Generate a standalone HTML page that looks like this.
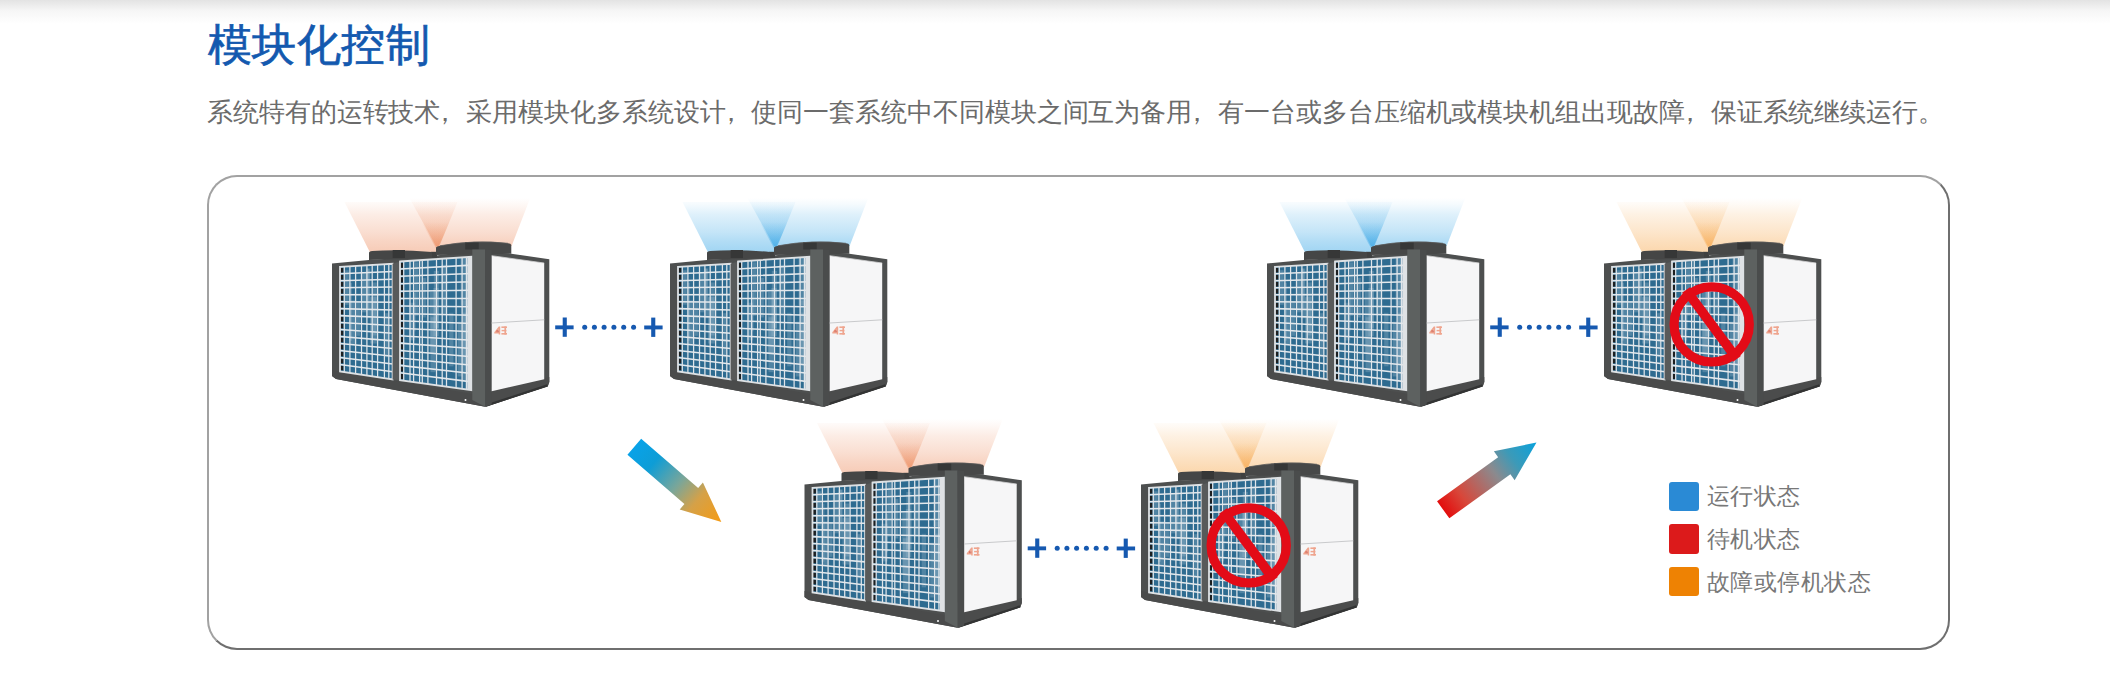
<!DOCTYPE html>
<html><head><meta charset="utf-8"><style>
html,body{margin:0;padding:0;background:#fff;width:2110px;height:686px;overflow:hidden;}
body{position:relative;font-family:"Liberation Sans",sans-serif;}
.topshade{position:absolute;left:0;top:0;width:2110px;height:24px;background:linear-gradient(#e3e3e3,#f6f6f6 45%,#fff);}
.title{position:absolute;left:207.5px;top:23px;font-size:44px;line-height:1;color:#1359af;white-space:nowrap;letter-spacing:0.55px;-webkit-text-stroke:0.7px #1359af;}
.desc{position:absolute;left:207px;top:98.5px;font-size:26px;letter-spacing:-0.076px;line-height:1;color:#6b6b6b;white-space:nowrap;}
.box{position:absolute;left:207.2px;top:175.45px;width:1738.5px;height:470.25px;border-style:solid;border-width:2.5px 2px 2px 2.5px;border-color:#a2a2a2 #6f6f6f #6f6f6f #a2a2a2;border-radius:30px;}
svg{position:absolute;left:0;top:0;}
.cm{position:relative;left:-8px;}
.leg{position:absolute;left:1707px;font-size:23px;letter-spacing:0.42px;line-height:1;color:#787878;white-space:nowrap;}
.sq{position:absolute;left:1668.5px;width:30.3px;height:29.4px;border-radius:3px;}
</style></head><body>
<div class="topshade"></div>
<div class="title">模块化控制</div>
<div class="desc">系统特有的运转技术<span class="cm">，</span>采用模块化多系统设计<span class="cm">，</span>使同一套系统中不同模块之间互为备用<span class="cm">，</span>有一台或多台压缩机或模块机组出现故障<span class="cm">，</span>保证系统继续运行。</div>
<div class="box"></div>
<svg width="2110" height="686" viewBox="0 0 2110 686"><defs><linearGradient id="gblue" x1="0" y1="0" x2="1" y2="1"><stop offset="0" stop-color="#2d6c92"/><stop offset="0.5" stop-color="#3a7aa0"/><stop offset="1" stop-color="#2a6689"/></linearGradient><linearGradient id="cgr" x1="0" y1="198" x2="0" y2="252" gradientUnits="userSpaceOnUse"><stop offset="0" stop-color="rgb(232,112,55)" stop-opacity="0"/><stop offset="0.13" stop-color="rgb(232,112,55)" stop-opacity="0.05"/><stop offset="0.31" stop-color="rgb(232,112,55)" stop-opacity="0.13"/><stop offset="0.63" stop-color="rgb(232,112,55)" stop-opacity="0.23"/><stop offset="0.78" stop-color="rgb(232,112,55)" stop-opacity="0.29"/><stop offset="1" stop-color="rgb(232,112,55)" stop-opacity="0.36"/></linearGradient><linearGradient id="cvr" x1="0" y1="222" x2="0" y2="250" gradientUnits="userSpaceOnUse"><stop offset="0" stop-color="rgb(232,112,55)" stop-opacity="0"/><stop offset="1" stop-color="rgb(232,112,55)" stop-opacity="0.36"/></linearGradient><linearGradient id="cgb" x1="0" y1="198" x2="0" y2="252" gradientUnits="userSpaceOnUse"><stop offset="0" stop-color="rgb(20,150,225)" stop-opacity="0"/><stop offset="0.13" stop-color="rgb(20,150,225)" stop-opacity="0.05"/><stop offset="0.31" stop-color="rgb(20,150,225)" stop-opacity="0.14"/><stop offset="0.63" stop-color="rgb(20,150,225)" stop-opacity="0.25"/><stop offset="0.78" stop-color="rgb(20,150,225)" stop-opacity="0.32"/><stop offset="1" stop-color="rgb(20,150,225)" stop-opacity="0.4"/></linearGradient><linearGradient id="cvb" x1="0" y1="222" x2="0" y2="250" gradientUnits="userSpaceOnUse"><stop offset="0" stop-color="rgb(20,150,225)" stop-opacity="0"/><stop offset="1" stop-color="rgb(20,150,225)" stop-opacity="0.4"/></linearGradient><linearGradient id="cgo" x1="0" y1="198" x2="0" y2="252" gradientUnits="userSpaceOnUse"><stop offset="0" stop-color="rgb(245,150,40)" stop-opacity="0"/><stop offset="0.13" stop-color="rgb(245,150,40)" stop-opacity="0.05"/><stop offset="0.31" stop-color="rgb(245,150,40)" stop-opacity="0.13"/><stop offset="0.63" stop-color="rgb(245,150,40)" stop-opacity="0.24"/><stop offset="0.78" stop-color="rgb(245,150,40)" stop-opacity="0.3"/><stop offset="1" stop-color="rgb(245,150,40)" stop-opacity="0.38"/></linearGradient><linearGradient id="cvo" x1="0" y1="222" x2="0" y2="250" gradientUnits="userSpaceOnUse"><stop offset="0" stop-color="rgb(245,150,40)" stop-opacity="0"/><stop offset="1" stop-color="rgb(245,150,40)" stop-opacity="0.38"/></linearGradient><linearGradient id="ag1" x1="0" y1="0" x2="1" y2="0"><stop offset="0" stop-color="#08a2e8"/><stop offset="0.22" stop-color="#0e9dd6"/><stop offset="0.5" stop-color="#79a69a"/><stop offset="0.72" stop-color="#d5a148"/><stop offset="1" stop-color="#f59b14"/></linearGradient><linearGradient id="ag2" x1="0" y1="0" x2="1" y2="0"><stop offset="0" stop-color="#e30d0d"/><stop offset="0.2" stop-color="#d8473a"/><stop offset="0.55" stop-color="#8b8a8e"/><stop offset="0.75" stop-color="#3c9ab8"/><stop offset="1" stop-color="#0aa2dc"/></linearGradient><g id="body"><polygon points="332,263.6 369,260 436,255.5 472.3,251 511.3,253.7 549.3,259.3 549.3,382 547.8,386.3 485.2,406.8 336,379 332,376" fill="#4d4f4f"/><rect x="431" y="251.8" width="6" height="6" fill="#3f4040"/><path d="M369 260 V252.5 Q369.5 251 372 250.9 Q400 249 432 252 V258 Z" fill="#454646"/><rect x="392.7" y="250" width="12.3" height="8" fill="#363737"/><path d="M436 255 V247.5 Q436.5 246.5 440 245.8 Q474 239.5 508 243.3 Q511 243.6 511.3 245 V253.7 Z" fill="#474848"/><rect x="465.2" y="242" width="13.5" height="7.5" fill="#363737"/><path d="M440 245.8 Q474 239.5 508 243.3" stroke="#5a5b5b" stroke-width="0.8" fill="none"/><polygon points="332,370 472.5,394 485.2,406.8 336,379 332,376" fill="#4a4b4b"/><polygon points="491.5,391.3 549.3,377 549.3,382 547.8,386.3 485.2,406.8" fill="#4b4c4c"/><path d="M486 405.6 L547.5 385.4" stroke="#333434" stroke-width="2.2"/><polygon points="340,266.8 392.6,263.8 392.6,379.4 340,371.4" fill="#2e6b90"/><rect x="356.77" y="301.03" width="3.18" height="34.78" fill="#9dbccd" opacity="0.32"/><rect x="366.03" y="268.51" width="4.15" height="49.76" fill="#9dbccd" opacity="0.32"/><rect x="344.27" y="270.24" width="4.45" height="34.52" fill="#9dbccd" opacity="0.32"/><rect x="361.16" y="272.34" width="6.22" height="40.01" fill="#9dbccd" opacity="0.32"/><rect x="370.02" y="297.08" width="6.76" height="46.46" fill="#9dbccd" opacity="0.32"/><rect x="385.25" y="313.18" width="2.71" height="44.13" fill="#9dbccd" opacity="0.32"/><rect x="348.93" y="282.71" width="3.03" height="58.01" fill="#9dbccd" opacity="0.32"/><rect x="350.52" y="300.32" width="5.12" height="43.97" fill="#9dbccd" opacity="0.32"/><rect x="366.54" y="268.57" width="2.78" height="39.85" fill="#9dbccd" opacity="0.32"/><rect x="372.33" y="282.45" width="4.42" height="52.97" fill="#9dbccd" opacity="0.32"/><path d="M340.2 268h3.2V272.57h-3.2zM340.2 274.97h3.2V279.55h-3.2zM340.2 281.95h3.2V286.52h-3.2zM340.2 288.92h3.2V293.49h-3.2zM340.2 295.89h3.2V300.47h-3.2zM340.2 302.87h3.2V307.44h-3.2zM340.2 309.84h3.2V314.41h-3.2zM340.2 316.81h3.2V321.39h-3.2zM340.2 323.79h3.2V328.36h-3.2zM340.2 330.76h3.2V335.33h-3.2zM340.2 337.73h3.2V342.31h-3.2zM340.2 344.71h3.2V349.28h-3.2zM340.2 351.68h3.2V356.25h-3.2zM340.2 358.65h3.2V363.23h-3.2zM340.2 365.63h3.2V370.2h-3.2z" fill="#1d1f20"/><path d="M344.3 266.55V372.05M349.9 266.24V372.91M355.6 265.91V373.77M361.5 265.57V374.67M366.9 265.27V375.49M372.2 264.96V376.3M377.6 264.66V377.12M384.4 264.27V378.15M388.8 264.02V378.82" stroke="#dfe5ea" stroke-width="1.25" fill="none"/><path d="M340 273.77L392.6 271.51M340 280.75L392.6 279.21M340 287.72L392.6 286.92M340 294.69L392.6 294.63M340 301.67L392.6 302.33M340 308.64L392.6 310.04M340 315.61L392.6 317.75M340 322.59L392.6 325.45M340 329.56L392.6 333.16M340 336.53L392.6 340.87M340 343.51L392.6 348.57M340 350.48L392.6 356.28M340 357.45L392.6 363.99M340 364.43L392.6 371.69" stroke="#e3e8ec" stroke-width="1.55" fill="none"/><polygon points="340,266.8 392.6,263.8 392.6,379.4 340,371.4" fill="none" stroke="#dde1e4" stroke-width="1.8"/><polygon points="392.6,263.8 400,261.5 400,380.2 392.6,379.4" fill="#585a5a"/><polygon points="400,261.5 471.7,256.8 471.7,390.2 400,380.2" fill="#2e6b90"/><rect x="430.51" y="317.24" width="5.02" height="54.94" fill="#9dbccd" opacity="0.32"/><rect x="433.81" y="270.88" width="5.14" height="56.98" fill="#9dbccd" opacity="0.32"/><rect x="441.07" y="264.79" width="6.07" height="49.71" fill="#9dbccd" opacity="0.32"/><rect x="408.98" y="302.71" width="6.14" height="37.68" fill="#9dbccd" opacity="0.32"/><rect x="462.04" y="300.4" width="6.84" height="63.69" fill="#9dbccd" opacity="0.32"/><rect x="412.96" y="292.71" width="2.57" height="38.58" fill="#9dbccd" opacity="0.32"/><rect x="414.9" y="262.35" width="3.59" height="53.47" fill="#9dbccd" opacity="0.32"/><rect x="429.8" y="291.94" width="6.29" height="61.42" fill="#9dbccd" opacity="0.32"/><rect x="433.33" y="288.02" width="5.48" height="48.14" fill="#9dbccd" opacity="0.32"/><rect x="462.96" y="312.66" width="6.98" height="67.43" fill="#9dbccd" opacity="0.32"/><rect x="422.35" y="277.85" width="3.53" height="39.58" fill="#9dbccd" opacity="0.32"/><rect x="449.19" y="312.79" width="4.3" height="53.57" fill="#9dbccd" opacity="0.32"/><rect x="460.6" y="257.56" width="6.31" height="47.59" fill="#9dbccd" opacity="0.32"/><rect x="457.76" y="321.7" width="4.61" height="54.73" fill="#9dbccd" opacity="0.32"/><path d="M400.2 262.7h3.2V267.72h-3.2zM400.2 270.12h3.2V275.14h-3.2zM400.2 277.54h3.2V282.56h-3.2zM400.2 284.96h3.2V289.98h-3.2zM400.2 292.38h3.2V297.39h-3.2zM400.2 299.79h3.2V304.81h-3.2zM400.2 307.21h3.2V312.23h-3.2zM400.2 314.63h3.2V319.65h-3.2zM400.2 322.05h3.2V327.07h-3.2zM400.2 329.47h3.2V334.49h-3.2zM400.2 336.89h3.2V341.91h-3.2zM400.2 344.31h3.2V349.32h-3.2zM400.2 351.72h3.2V356.74h-3.2zM400.2 359.14h3.2V364.16h-3.2zM400.2 366.56h3.2V371.58h-3.2zM400.2 373.98h3.2V379h-3.2z" fill="#1d1f20"/><path d="M403.7 261.26V380.72M410 260.84V381.59M413.6 260.61V382.1M419.6 260.22V382.93M422.3 260.04V383.31M427.9 259.67V384.09M436.5 259.11V385.29M442.2 258.73V386.09M446.5 258.45V386.69M456.1 257.82V388.02M462.1 257.43V388.86M466.4 257.15V389.46" stroke="#dfe5ea" stroke-width="1.25" fill="none"/><path d="M400 268.92L471.7 265.14M400 276.34L471.7 273.48M400 283.76L471.7 281.81M400 291.18L471.7 290.15M400 298.59L471.7 298.49M400 306.01L471.7 306.82M400 313.43L471.7 315.16M400 320.85L471.7 323.5M400 328.27L471.7 331.84M400 335.69L471.7 340.18M400 343.11L471.7 348.51M400 350.52L471.7 356.85M400 357.94L471.7 365.19M400 365.36L471.7 373.52M400 372.78L471.7 381.86" stroke="#e3e8ec" stroke-width="1.55" fill="none"/><polygon points="400,261.5 471.7,256.8 471.7,390.2 400,380.2" fill="none" stroke="#dde1e4" stroke-width="1.8"/><polygon points="467.2,257.3 471.7,256.8 471.7,390.2 467.2,389.6" fill="#dfe2e5"/><polygon points="472.3,249.5 485,249.5 485.2,406.8 472.3,400" fill="#5d6160"/><polygon points="485,249.5 491.7,250 491.7,404.5 485.2,406.8" fill="#4a4c4c"/><polygon points="491.7,255.7 544.2,263 544.2,379.3 491.7,391.3" fill="#f6f6f7"/><path d="M491.7 323 L544.2 319.8" stroke="#c9cacc" stroke-width="1"/><path d="M491.7 255.7 L544.2 263" stroke="#d0d0d2" stroke-width="0.8"/><g fill="#ec7b58" opacity="0.65"><path d="M494.3 332.2 L498.8 326.4 H500.2 V334.6 H498.7 V333.6 H494.3Z M496.6 332.1 H498.7 V329.4Z" fill-rule="evenodd"/><rect x="501.4" y="326.4" width="5.6" height="1.6"/><rect x="504.4" y="326.4" width="1.7" height="8.2"/><rect x="501.6" y="329.9" width="4.8" height="1.4"/><rect x="501.4" y="333" width="5.6" height="1.6"/></g><rect x="496.5" y="330.3" width="2.4" height="1.8" fill="#c83a26" opacity="0.6"/><circle cx="465.5" cy="400" r="1" fill="#fff"/></g><g id="plus"><rect x="555.2" y="325.4" width="18.4" height="3.9" fill="#1659b0"/><rect x="562.7" y="317.5" width="4.1" height="19.3" fill="#1659b0"/><rect x="644.2" y="325.5" width="18.4" height="3.9" fill="#1659b0"/><rect x="651.2" y="317.6" width="4.1" height="19.3" fill="#1659b0"/><circle cx="584.7" cy="327.3" r="2.5" fill="#1659b0"/><circle cx="594.4" cy="327.3" r="2.5" fill="#1659b0"/><circle cx="604.1" cy="327.3" r="2.5" fill="#1659b0"/><circle cx="613.9" cy="327.3" r="2.5" fill="#1659b0"/><circle cx="623.7" cy="327.3" r="2.5" fill="#1659b0"/><circle cx="633.6" cy="327.3" r="2.5" fill="#1659b0"/></g><g id="nos"><g><circle cx="439.7" cy="324.4" r="37.6" fill="none" stroke="#e30b17" stroke-width="9.2"/><line x1="414" y1="290" x2="465" y2="358.8" stroke="#e30b17" stroke-width="9.6"/></g></g><g id="coner"><polygon points="344.5,202 457.5,202 437,252 369.8,252" fill="url(#cgr)"/><polygon points="408.6,196.5 530.8,196.5 511.6,246 436,246" fill="url(#cgr)"/><polygon points="421,221 450,221 437,250" fill="url(#cvr)"/></g><g id="coneb"><polygon points="344.5,202 457.5,202 437,252 369.8,252" fill="url(#cgb)"/><polygon points="408.6,196.5 530.8,196.5 511.6,246 436,246" fill="url(#cgb)"/><polygon points="421,221 450,221 437,250" fill="url(#cvb)"/></g><g id="coneo"><polygon points="344.5,202 457.5,202 437,252 369.8,252" fill="url(#cgo)"/><polygon points="408.6,196.5 530.8,196.5 511.6,246 436,246" fill="url(#cgo)"/><polygon points="421,221 450,221 437,250" fill="url(#cvo)"/></g><filter id="soft" x="-5%" y="-5%" width="110%" height="110%"><feGaussianBlur stdDeviation="0.45"/></filter></defs><g transform="translate(0 0)"><use href="#coner"/><use href="#body"/></g><g transform="translate(338 0)"><use href="#coneb"/><use href="#body"/></g><g transform="translate(935 0)"><use href="#coneb"/><use href="#body"/></g><g transform="translate(1272 0)"><use href="#coneo"/><use href="#body"/><use href="#nos"/></g><g transform="translate(472.5 221)"><use href="#coner"/><use href="#body"/></g><g transform="translate(809 221)"><use href="#coneo"/><use href="#body"/><use href="#nos"/></g><use href="#plus" transform="translate(0 0)"/><use href="#plus" transform="translate(472.5 221)"/><use href="#plus" transform="translate(935 0)"/><g transform="translate(634.3 446.75) rotate(40.8)"><polygon points="0,-10.5 75.3,-10.5 75.3,-17.75 115,0 75.3,17.75 75.3,10.5 0,10.5" fill="url(#ag1)"/></g><g transform="translate(1443.2 509.8) rotate(-35.8)"><polygon points="0,-10.5 75.3,-10.5 75.3,-17.75 115,0 75.3,17.75 75.3,10.5 0,10.5" fill="url(#ag2)"/></g></svg>
<div class="sq" style="top:481.6px;background:#2a8ad5"></div>
<div class="sq" style="top:524.3px;background:#dc1a1b"></div>
<div class="sq" style="top:566.9px;background:#ee8203"></div>
<div class="leg" style="top:485px">运行状态</div>
<div class="leg" style="top:528px">待机状态</div>
<div class="leg" style="top:571px">故障或停机状态</div>
</body></html>
